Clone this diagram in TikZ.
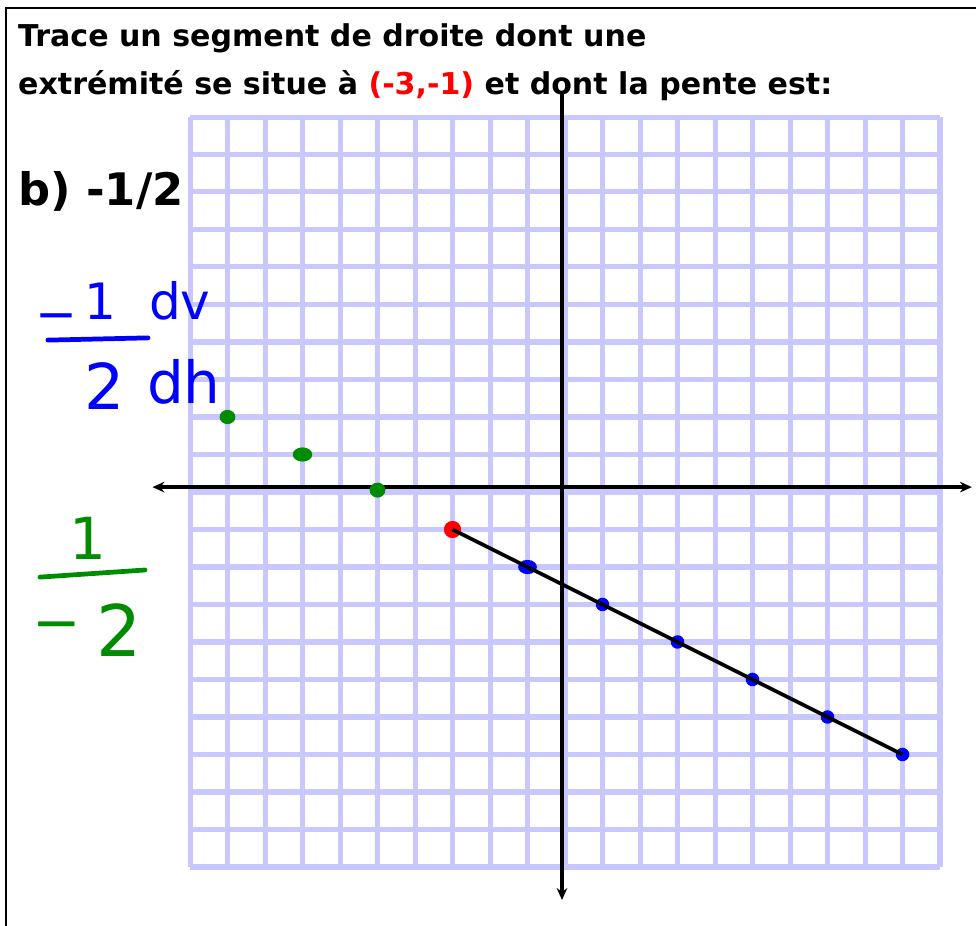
\documentclass[tikz,border=0pt]{standalone}
\usepackage{fontspec}
\setmainfont{DejaVu Sans}
\usetikzlibrary{arrows.meta, shapes.geometric}

\definecolor{gridblue}{RGB}{200,200,255}
\definecolor{penblue}{RGB}{0,0,255}
\definecolor{pengreen}{RGB}{0,140,0}

\begin{document}
\begin{tikzpicture}[
    gridline/.style={draw=gridblue, line width=3.8pt},
    axisline/.style={draw=black, line width=2.8pt, -{Stealth[length=9pt,width=8pt]}},
    seg/.style={draw=black, line width=2.8pt},
    dot/.style={ellipse, fill=#1, inner sep=0pt},
    title/.style={anchor=base west, inner sep=0pt, font=\bfseries\fontsize{22.8}{26}\selectfont},
    hand/.style={inner sep=0pt, text=#1, font=\fontsize{38}{40}\selectfont},
    bar/.style={draw=#1, line width=3.6pt, line cap=round}
]

% Frame of the page
\useasboundingbox (-15.067,-11.573) rectangle (10.96,13.12);
\draw[line width=1.6pt] (10.96,12.907) -- (-14.907,12.907) -- (-14.907,-11.573);

% Statement
\node[title] (l1) at (-14.59,11.87) {Trace un segment de droite dont une};
\node[title] (l2) at (-14.59,10.59) {extrémité se situe à \textcolor{red}{(-3,-1)} et dont la pente est:};
\node[title, font=\bfseries\fontsize{34}{38}\selectfont] (part) at (-14.59,7.65) {b) -1/2};

% Grid paper
\draw[gridline] (-10,-10) grid (10,10);

% Axes
\coordinate (xl) at (-11,0.13);
\coordinate (xr) at (10.85,0.13);
\coordinate (yt) at (-0.08,10.67);
\coordinate (yb) at (-0.08,-10.88);
\draw[axisline] (0,0.13) -- (xl);
\draw[axisline] (0,0.13) -- (xr);
\draw[axisline] (yt) -- (yb);

% Slope written as -1/2
\node[hand=penblue] (m1) at (-13.55,4.52) {−};
\node[hand=penblue, anchor=base] (n1) at (-12.4,4.6) {1};
\node[hand=penblue, anchor=base west] (dv) at (-11.1,4.6) {dv};
\coordinate (b1) at (-13.79,4.05);
\coordinate (b2) at (-11.12,4.11);
\draw[bar=penblue] (b1) -- (b2);
\node[hand=penblue, anchor=base, font=\fontsize{48}{50}\selectfont] (d2) at (-12.27,2.2) {2};
\node[hand=penblue, anchor=base west, font=\fontsize{44}{46}\selectfont] (dh) at (-11.15,2.37) {dh};

% Slope written as 1/-2
\node[hand=pengreen, anchor=base, font=\fontsize{44}{46}\selectfont] (g1) at (-12.72,-1.81) {1};
\coordinate (c1) at (-14.0,-2.27);
\coordinate (c2) at (-11.2,-2.08);
\draw[bar=pengreen] (c1) -- (c2);
\node[hand=pengreen, font=\fontsize{44}{46}\selectfont] (m2) at (-13.55,-3.75) {−};
\node[hand=pengreen, anchor=base, font=\fontsize{54}{56}\selectfont] (g2) at (-11.9,-4.4) {2};

% Points
\node[dot=pengreen, minimum width=0.42cm, minimum height=0.38cm] (p1) at (-9,2) {};
\node[dot=pengreen, minimum width=0.52cm, minimum height=0.38cm] (p2) at (-7,1) {};
\node[dot=pengreen, minimum width=0.42cm, minimum height=0.40cm] (p3) at (-5,0.05) {};
\node[dot=penblue, minimum width=0.5cm, minimum height=0.38cm] (q0) at (-1,-2) {};
\foreach \x/\y [count=\i] in {1/-3, 3/-4, 5/-5, 7/-6, 9/-7} {
    \node[dot=penblue, minimum size=0.36cm] (q\i) at (\x,\y) {};
}
\node[dot=red, minimum size=0.46cm] (start) at (-3,-1) {};

% Segment
\draw[seg] (start.center) -- (q5.center);

\end{tikzpicture}
\end{document}
